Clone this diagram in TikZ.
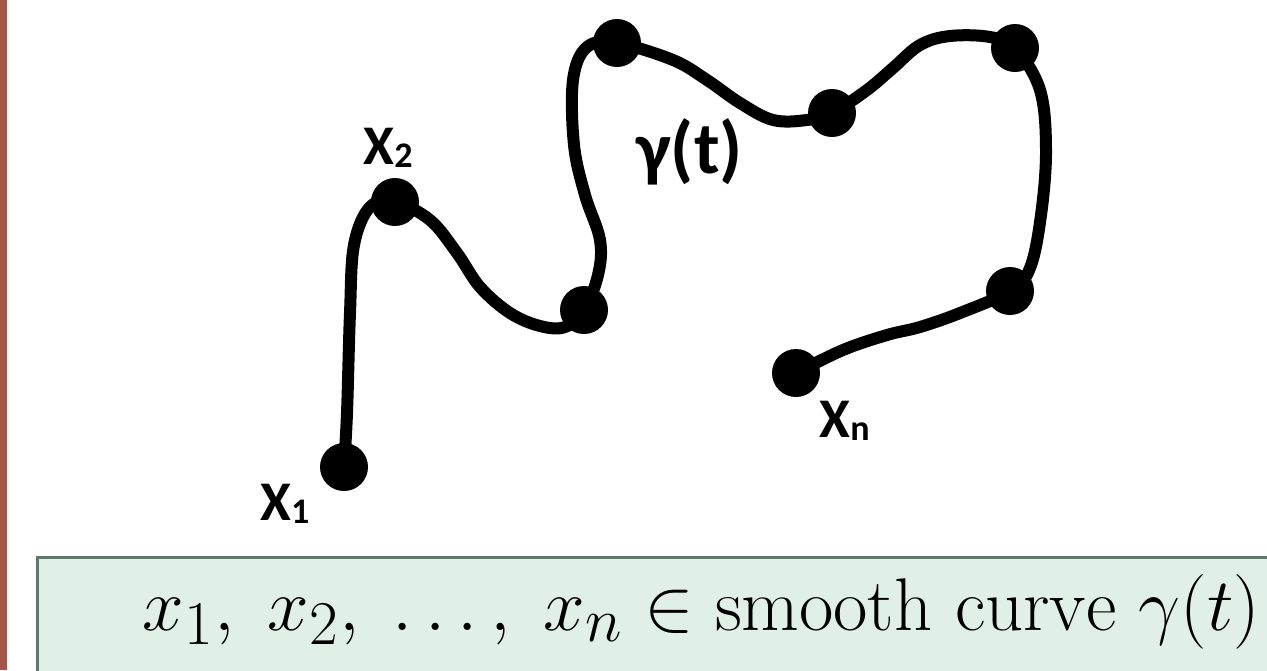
\documentclass[tikz,border=0pt]{standalone}
\usepackage{fontspec}
\newfontfamily\calib{Carlito}
\definecolor{barred}{HTML}{A65446}
\definecolor{boxfill}{HTML}{E0F0E6}
\definecolor{boxline}{HTML}{5B7A69}
\begin{document}
\begin{tikzpicture}[x=0.5pt,y=-0.5pt,
    dot/.style={circle,fill=black,inner sep=0pt,minimum size=24pt},
    curve/.style={line width=6pt,line cap=round,line join=round},
    lbl/.style={anchor=base west,inner sep=0pt,font=\calib\bfseries\fontsize{28}{32}\selectfont}]
        \useasboundingbox (0,0) rectangle (1267,670);
        \clip (0,0) rectangle (1267,670);
        \fill [barred] (0,0) rectangle (7,670);
        \draw [boxline,fill=boxfill,line width=1.5pt] (37,557) rectangle (1290,700);
        \node [dot] (x1) at (344,467) {};
        \node [dot] (x2) at (395,202) {};
        \node [dot] (p3) at (584,310) {};
        \node [dot] (p4) at (617,43) {};
        \node [dot] (p5) at (832,113) {};
        \node [dot] (p6) at (1015,48) {};
        \node [dot] (p7) at (1010,291) {};
        \node [dot] (xn) at (796,373) {};
        \draw [curve] plot [smooth,tension=0.6] coordinates {(x1.center) (347,413) (350,313) (354,245) (370,207) (x2.center)
            (430,220) (457,253) (480,287) (510,313) (540,326) (565,327) (p3.center)
            (598,275) (600,240) (585,195) (574,145) (573,80) (587,47) (p4.center)
            (673,60) (707,80) (740,103) (773,120) (807,120) (p5.center)
            (867,90) (893,68) (920,45) (950,36) (990,37) (p6.center)
            (1040,90) (1046,150) (1041,215) (1030,268) (p7.center)
            (960,313) (920,327) (887,335) (843,350) (xn.center)};
        \node [lbl] (lx1) at (260,520) {X\raisebox{-1.5pt}{\fontsize{18}{20}\selectfont 1}};
        \node [lbl] (lx2) at (363,164) {X\raisebox{-1.5pt}{\fontsize{18}{20}\selectfont 2}};
        \node [lbl] (lxn) at (819,437) {X\raisebox{-1.5pt}{\fontsize{18}{20}\selectfont n}};
        \node [lbl,font=\calib\bfseries\fontsize{37}{40}\selectfont] (gam) at (636,173) {γ(t)};
        \node [anchor=base west,inner sep=0pt,font=\Huge,scale=1.5,transform shape] (eq) at (142,630)
            {$x_1,\; x_2,\; \dots,\; x_n \in \mathrm{smooth\ curve}\ \gamma(t)$};
    \end{tikzpicture}
\end{document}
